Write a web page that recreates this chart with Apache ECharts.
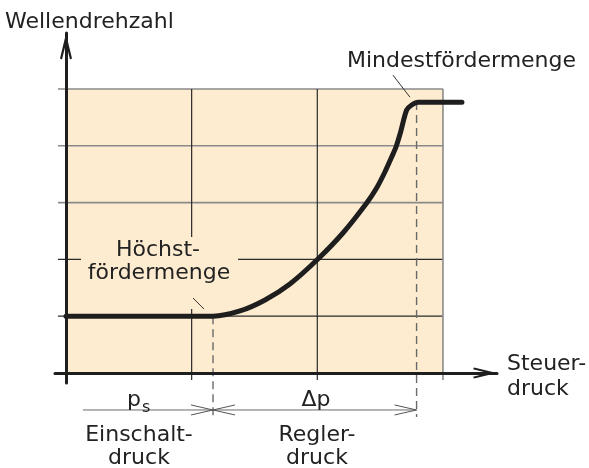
<!DOCTYPE html>
<html>
<head>
<meta charset="utf-8">
<script src="https://cdn.jsdelivr.net/npm/echarts@6/dist/echarts.min.js"></script>
<style>
  html, body { margin: 0; padding: 0; background: #fff; }
  #chart { width: 589px; height: 468px; }
</style>
</head>
<body>
<div id="chart"></div>
<script>
// Kennlinie: Wellendrehzahl über Steuerdruck (Achsen ohne Zahlenwerte)
const curve = [
  [0, 1], [1.17, 1], [1.385, 1.092], [1.584, 1.285], [1.782, 1.567], [2.005, 2.007],
  [2.204, 2.465], [2.393, 2.993], [2.472, 3.257], [2.538, 3.539], [2.592, 3.803],
  [2.626, 3.979], [2.663, 4.243], [2.711, 4.63], [2.751, 4.718],
  [2.803, 4.766], [3.151, 4.766],
]
const gridX = [1, 2, 3]
const gridY = [1, 2, 3, 4, 5]
const darkY = [1, 2]          // dunkle Rasterlinien, übrige grau
const psEnd = 1.17            // Einschaltdruck
const dpEnd = 2.79            // Ende Reglerdruck
const dimY = -0.651           // Höhe der Maßlinie
const dimStart = 0.135
const dashBottom = -0.774
const leaderMin = [[2.602, 5.244], [2.737, 4.857]]
const leaderMax = [[1.011, 1.32], [1.098, 1.126]]

const FILL = '#fdecd0'
const FONT = '"DejaVu Sans", sans-serif'
const arrowPath = 'path://M6,0 L12,25 L10,26 L6,10 L2,26 L0,25 Z'

function seg(data, color, width, z, type) {
  return {
    type: 'line', data, symbol: 'none', silent: true, clip: false, z,
    lineStyle: { color, width, type: type || 'solid' },
  }
}

const series = [
  {
    type: 'line', data: [], z: 1, silent: true,
    markArea: {
      silent: true,
      itemStyle: { color: FILL },
      data: [[{ coord: [0, 0] }, { coord: [3, 5] }]],
    },
  },
]
gridY.forEach((y) => {
  const dark = darkY.includes(y)
  series.push(seg([[-0.064, y], [3, y]], dark ? '#2a2a2a' : '#8a8a8a', dark ? 1.2 : 1.6, 2))
})
gridX.forEach((x) => {
  series.push(seg([[x, 5], [x, -0.123]], x === 3 ? '#8a8a8a' : '#2a2a2a', x === 3 ? 1.6 : 1.2, 2))
})
// gestrichelte Hilfslinien
series.push(seg([[psEnd, 1], [psEnd, dashBottom]], '#6a6a6a', 1.4, 4, [8, 5]))
series.push(seg([[dpEnd, 4.77], [dpEnd, dashBottom]], '#6a6a6a', 1.4, 4, [8, 5]))
// Maßlinie mit Pfeilen
const ah = 0.175, aw = 0.088
series.push(seg([[dimStart, dimY], [dpEnd, dimY]], '#6a6a6a', 1, 4))
series.push(seg([[psEnd - ah, dimY + aw], [psEnd, dimY], [psEnd - ah, dimY - aw]], '#555', 1, 4))
series.push(seg([[psEnd + ah, dimY + aw], [psEnd, dimY], [psEnd + ah, dimY - aw]], '#555', 1, 4))
series.push(seg([[dpEnd - ah, dimY + aw], [dpEnd, dimY], [dpEnd - ah, dimY - aw]], '#555', 1, 4))
// Hinweislinien
series.push(seg(leaderMin, '#333', 1, 4))
series.push(seg(leaderMax, '#333', 1, 4))
// Kennlinie
series.push({
  type: 'line', data: curve, symbol: 'none', smooth: 0.3, silent: true, z: 6,
  lineStyle: { color: '#1e1e1e', width: 5, cap: 'round', join: 'round' },
})

// y = Grundlinie der Schrift
function txt(text, x, y, align, size) {
  const s = size || 22
  return {
    type: 'text', x, y: y - s * 0.74, z: 8, silent: true,
    style: {
      text, x: 0, y: 0, fill: '#222', align: align || 'left', verticalAlign: 'top',
      font: s + 'px ' + FONT,
    },
  }
}

const chart = echarts.init(document.getElementById('chart'))
chart.setOption({
  animation: false,
  backgroundColor: '#ffffff',
  grid: { left: 55, right: 92, top: 33, bottom: 85 },
  xAxis: {
    type: 'value', min: -0.0875, max: 3.43, z: 10,
    axisLine: {
      onZero: true, symbol: ['none', arrowPath], symbolSize: [11, 24], symbolOffset: [0, -12],
      lineStyle: { color: '#1e1e1e', width: 3 },
    },
    axisTick: { show: false }, axisLabel: { show: false }, splitLine: { show: false },
  },
  yAxis: {
    type: 'value', min: -0.176, max: 5.986, z: 10,
    axisLine: {
      onZero: true, symbol: ['none', arrowPath], symbolSize: [12, 27], symbolOffset: [0, -13.5],
      lineStyle: { color: '#1e1e1e', width: 3 },
    },
    axisTick: { show: false }, axisLabel: { show: false }, splitLine: { show: false },
  },
  graphic: [
    { type: 'rect', z: 3, silent: true, shape: { x: 81, y: 237, width: 157, height: 72 }, style: { fill: FILL } },
    txt('Wellendrehzahl', 5, 28),
    txt('Mindestfördermenge', 347, 67),
    txt('Höchst-', 158, 256, 'center'),
    txt('fördermenge', 159, 279, 'center'),
    txt('Steuer-', 507, 370),
    txt('druck', 507, 395),
    txt('p', 127, 406),
    txt('s', 142, 412, 'left', 16),
    txt('Δp', 316, 406, 'center'),
    txt('Einschalt-', 139, 441, 'center'),
    txt('druck', 139, 464, 'center'),
    txt('Regler-', 317, 441, 'center'),
    txt('druck', 317, 464, 'center'),
  ],
  series,
})
</script>
</body>
</html>
